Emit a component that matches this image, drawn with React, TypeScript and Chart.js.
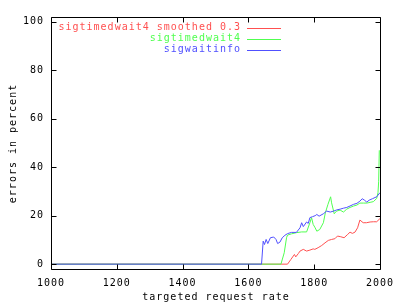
import React, { useEffect, useRef } from "react";
import { Chart, registerables } from "chart.js";

Chart.register(...registerables);

const xTicks = [1000, 1200, 1400, 1600, 1800, 2000];
const yTicks = [0, 20, 40, 60, 80, 100];

const redLabel = "sigtimedwait4 smoothed 0.3";
const greenLabel = "sigtimedwait4";
const blueLabel = "sigwaitinfo";

const redRates = [1000, 1719, 1729, 1740, 1744, 1752, 1757, 1767, 1777, 1787, 1797, 1802, 1812, 1823, 1833, 1843, 1853, 1863, 1871, 1881, 1891, 1902, 1909, 1916, 1924, 1932, 1939, 1949, 1959, 1970, 1980, 1990, 2000];
const redValues = [0, 0, 1.9, 4, 3, 4.4, 5.4, 6.1, 5.4, 5.8, 6.3, 6.1, 6.8, 7.7, 8.8, 9.8, 10.2, 10.5, 11.6, 11.3, 10.9, 12.3, 13.2, 12.7, 13.2, 15, 18.2, 17.1, 17.1, 17.4, 17.5, 17.5, 18.8];

const greenRates = [1000, 1699, 1709, 1716, 1719, 1731, 1746, 1762, 1777, 1787, 1792, 1797, 1803, 1808, 1817, 1828, 1834, 1842, 1850, 1853, 1861, 1868, 1879, 1889, 1899, 1909, 1920, 1930, 1939, 1950, 1960, 1970, 1980, 1990, 1994, 1996, 1998];
const greenValues = [0, 0, 4.7, 10.9, 12, 12.5, 13, 13.3, 13.3, 17.1, 19.2, 16.4, 15, 13.6, 14.3, 17.1, 21.2, 24.7, 27.8, 25.3, 20.8, 21.9, 22.3, 21.5, 22.7, 23.4, 24, 24.4, 25.2, 25.2, 25.2, 25.5, 25.8, 27.1, 29.5, 34, 47];

const blueRates = [1000, 1640, 1645, 1649, 1654, 1659, 1667, 1677, 1684, 1689, 1696, 1703, 1711, 1719, 1731, 1746, 1757, 1762, 1767, 1777, 1782, 1787, 1795, 1803, 1808, 1815, 1828, 1838, 1849, 1859, 1869, 1879, 1889, 1899, 1909, 1920, 1930, 1939, 1946, 1953, 1960, 1967, 1977, 1990, 2000];
const blueValues = [0, 0, 9.5, 8.1, 10.2, 8.5, 10.9, 11.2, 10.2, 8.5, 9.1, 10.9, 11.9, 12.6, 13.1, 13.1, 15, 17.1, 15.5, 17.4, 16.8, 19.2, 19.6, 20, 20.5, 19.8, 20.8, 21.9, 21.5, 21.9, 22.4, 22.7, 23.1, 23.4, 24, 24.7, 25.1, 26, 27, 26.4, 25.6, 26.4, 27, 27.8, 29.5];

const RED = "#ff5050";
const GREEN = "#50ff50";
const BLUE = "#5050ff";
const FONT = "'DejaVu Sans Mono', monospace";
const SPACING = "1px";

function zip(xs: number[], ys: number[]) {
  const n = Math.min(xs.length, ys.length);
  const out: { x: number; y: number }[] = [];
  for (let i = 0; i < n; i++) out.push({ x: xs[i], y: ys[i] });
  return out;
}

const gnuplotPlugin = {
  id: "gnuplotFrame",
  beforeDraw(chart: any) {
    const ctx = chart.ctx as any;
    ctx.letterSpacing = SPACING;
  },
  afterDraw(chart: any) {
    const ctx = chart.ctx as any;
    const { left, right, top, bottom } = chart.chartArea;
    const L = Math.round(left) + 0.5;
    const R = Math.round(right) + 0.5;
    const T = Math.round(top) + 0.5;
    const B = Math.round(bottom) + 0.5;
    ctx.save();
    ctx.letterSpacing = SPACING;
    ctx.strokeStyle = "#000";
    ctx.lineWidth = 1;
    ctx.beginPath();
    ctx.rect(L, T, R - L, B - T);
    const tl = 5;
    const xs = chart.scales.x;
    const ys = chart.scales.y;
    xs.ticks.forEach((t: any) => {
      const px = Math.round(xs.getPixelForValue(t.value)) + 0.5;
      ctx.moveTo(px, B);
      ctx.lineTo(px, B - tl);
      ctx.moveTo(px, T);
      ctx.lineTo(px, T + tl);
    });
    ys.ticks.forEach((t: any) => {
      const py = Math.round(ys.getPixelForValue(t.value)) + 0.5;
      ctx.moveTo(L, py);
      ctx.lineTo(L + tl, py);
      ctx.moveTo(R, py);
      ctx.lineTo(R - tl, py);
    });
    ctx.stroke();

    ctx.font = `10px ${FONT}`;
    ctx.fillStyle = "#000";
    ctx.textAlign = "center";
    ctx.textBaseline = "middle";
    ctx.fillText("targeted request rate", (L + R) / 2, 297.5);
    ctx.save();
    ctx.translate(13, (T + B) / 2);
    ctx.rotate(-Math.PI / 2);
    ctx.fillText("errors in percent", 0, 0);
    ctx.restore();

    const entries = [
      { label: redLabel, color: RED },
      { label: greenLabel, color: GREEN },
      { label: blueLabel, color: BLUE },
    ];
    ctx.textAlign = "right";
    entries.forEach((e, i) => {
      const y = 27.5 + i * 11.2;
      ctx.fillStyle = e.color;
      ctx.fillText(e.label, 241, y);
      ctx.strokeStyle = e.color;
      ctx.beginPath();
      const ly = Math.round(y) + 0.5;
      ctx.moveTo(247, ly);
      ctx.lineTo(281, ly);
      ctx.stroke();
    });
    ctx.restore();
  },
};

export default function App() {
  const ref = useRef<HTMLCanvasElement | null>(null);
  useEffect(() => {
    document.body.style.margin = "0";
    if (!ref.current) return;
    const chart = new Chart(ref.current, {
      type: "line",
      data: {
        datasets: [
          { label: redLabel, data: zip(redRates, redValues), borderColor: RED, borderWidth: 1, pointRadius: 0, order: 2, tension: 0 },
          { label: greenLabel, data: zip(greenRates, greenValues), borderColor: GREEN, borderWidth: 1, pointRadius: 0, order: 1, tension: 0 },
          { label: blueLabel, data: zip(blueRates, blueValues), borderColor: BLUE, borderWidth: 1, pointRadius: 0, order: 0, tension: 0 },
        ],
      },
      options: {
        responsive: false,
        animation: false,
        devicePixelRatio: 1,
        layout: { padding: { top: 17, right: 20, left: 0, bottom: 0 } },
        plugins: { legend: { display: false }, tooltip: { enabled: false } },
        scales: {
          x: {
            type: "linear",
            min: 1000,
            max: 2000,
            afterBuildTicks: (s: any) => { s.ticks = xTicks.map((v) => ({ value: v })); },
            afterFit: (s: any) => { s.height = 35; },
            grid: { display: false, drawTicks: false },
            border: { display: false },
            ticks: { color: "#000", font: { family: FONT, size: 10 }, padding: 8, maxRotation: 0, autoSkip: false, callback: (v: any) => String(v) },
          },
          y: {
            type: "linear",
            min: -2,
            max: 102,
            afterBuildTicks: (s: any) => { s.ticks = yTicks.map((v) => ({ value: v })); },
            afterFit: (s: any) => { s.width = 51; },
            grid: { display: false, drawTicks: false },
            border: { display: false },
            ticks: { color: "#000", font: { family: FONT, size: 10 }, padding: 7, callback: (v: any) => String(v) },
          },
        },
      },
      plugins: [gnuplotPlugin],
    } as any);
    return () => chart.destroy();
  }, []);
  return <canvas ref={ref} width={400} height={304} style={{ display: "block", width: 400, height: 304 }} />;
}
